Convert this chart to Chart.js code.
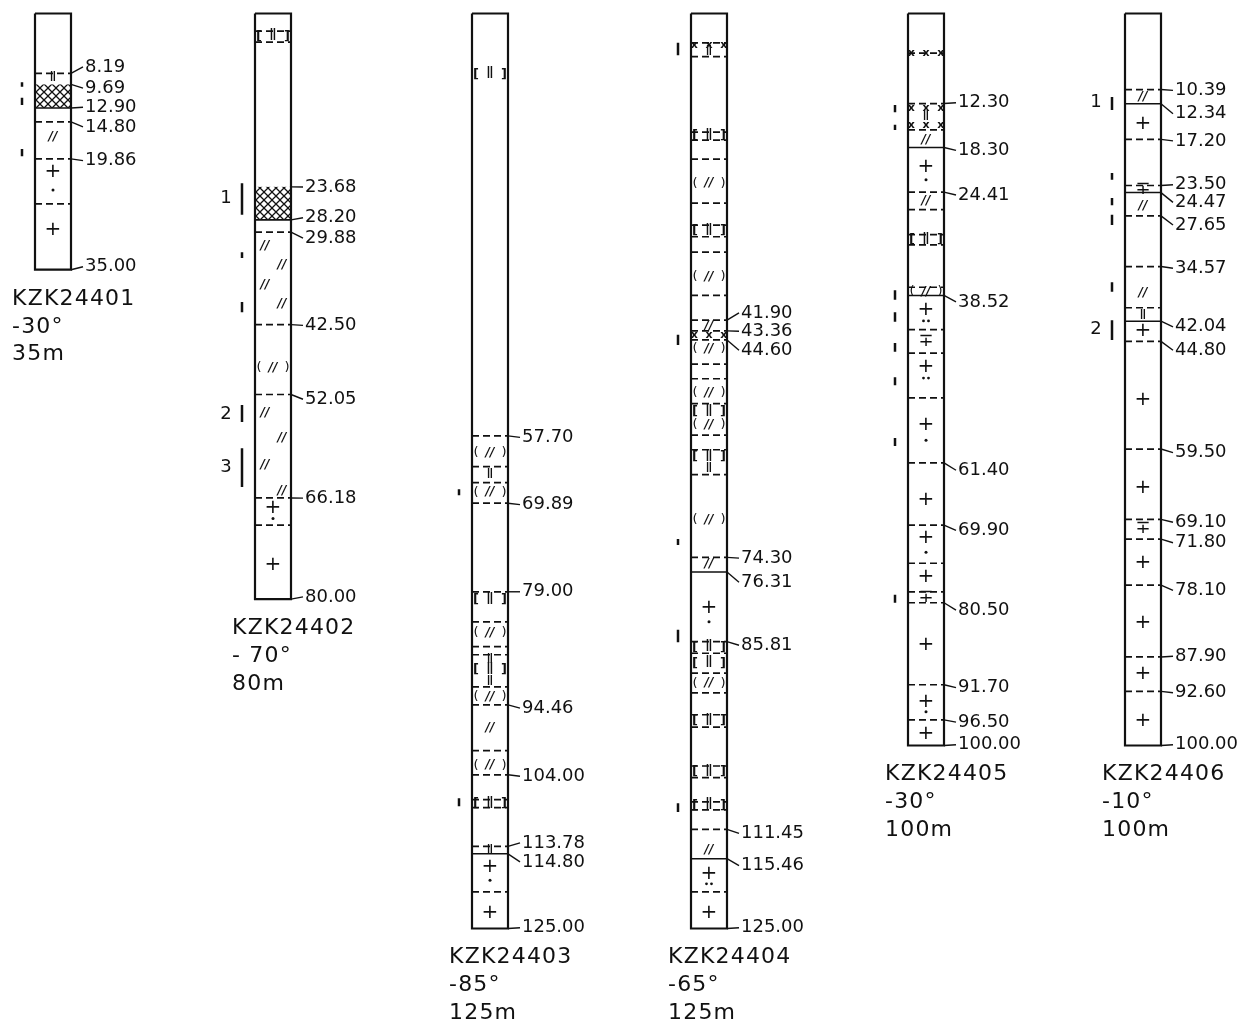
<!DOCTYPE html>
<html lang="en">
<head>
<meta charset="UTF-8" />
<title>KZK borehole logs</title>
<script src="https://cdn.jsdelivr.net/npm/chart.js"></script>
<style>
  html, body { margin: 0; padding: 0; background: #fff; }
  #wrap { width: 1249px; height: 1035px; position: relative; }
</style>
</head>
<body>
<div id="wrap"><canvas id="logChart"></canvas></div>
<script>
const holeNames = ["KZK24401", "KZK24402", "KZK24403", "KZK24404", "KZK24405", "KZK24406"];
const holeAngles = ["-30°", "- 70°", "-85°", "-65°", "-30°", "-10°"];
const holeLengths = ["35m", "80m", "125m", "125m", "100m", "100m"];
const holeDepths = [35, 80, 125, 125, 100, 100];

// labelled contacts: text, depth of the contact, depth where the text sits
const labelText = [
  ["8.19", "9.69", "12.90", "14.80", "19.86", "35.00"],
  ["23.68", "28.20", "29.88", "42.50", "52.05", "66.18", "80.00"],
  ["57.70", "69.89", "79.00", "94.46", "104.00", "113.78", "114.80", "125.00"],
  ["41.90", "43.36", "44.60", "74.30", "76.31", "85.81", "111.45", "115.46", "125.00"],
  ["12.30", "18.30", "24.41", "38.52", "61.40", "69.90", "80.50", "91.70", "96.50", "100.00"],
  ["10.39", "12.34", "17.20", "23.50", "24.47", "27.65", "34.57", "42.04", "44.80", "59.50", "69.10", "71.80", "78.10", "87.90", "92.60", "100.00"]
];
const labelDepth = [
  [8.19, 9.69, 12.9, 14.8, 19.86, 35],
  [23.68, 28.2, 29.88, 42.5, 52.05, 66.18, 80],
  [57.7, 66.9, 79, 94.46, 104, 113.78, 114.8, 125],
  [41.9, 43.36, 44.6, 74.3, 76.31, 85.81, 111.45, 115.46, 125],
  [12.3, 18.3, 24.41, 38.52, 61.4, 69.9, 80.5, 91.7, 96.5, 100],
  [10.39, 12.34, 17.2, 23.5, 24.47, 27.65, 34.57, 42.04, 44.8, 59.5, 69.1, 71.8, 78.1, 87.9, 92.6, 100]
];
const labelAt = [
  [7.3, 10.2, 12.8, 15.5, 20.1, 34.6],
  [23.7, 27.9, 30.7, 42.6, 52.7, 66.2, 79.7],
  [57.9, 67.1, 79.0, 94.9, 104.2, 113.3, 115.9, 124.9],
  [40.9, 43.4, 46.0, 74.4, 77.7, 86.3, 112.0, 116.4, 124.9],
  [12.2, 18.7, 24.8, 39.4, 62.4, 70.6, 81.5, 92.1, 96.8, 99.9],
  [10.5, 13.7, 17.4, 23.4, 25.8, 28.9, 34.8, 42.8, 46.0, 60.0, 69.5, 72.3, 78.8, 87.8, 92.8, 99.9]
];

// contacts drawn dashed / solid
const dashedAt = [
  [8.19, 14.8, 19.86, 26.0],
  [2.4, 3.9, 29.88, 42.5, 52.05, 66.18, 69.9],
  [57.7, 61.9, 64.1, 66.9, 79, 83.1, 86.5, 87.6, 92.0, 94.46, 100.7, 104, 107.4, 108.5, 113.78, 120],
  [4.0, 5.9, 16.2, 17.3, 19.9, 25.9, 28.9, 30.5, 32.6, 38.5, 41.9, 43.36, 44.6, 47.9, 49.9, 53.3, 57.6, 59.6, 63.0,
   74.3, 85.81, 87.4, 90.1, 92.8, 95.8, 97.5, 102.8, 104.4, 107.7, 108.8, 111.45, 120],
  [5.4, 12.3, 15.9, 24.41, 26.8, 30.2, 31.6, 37.4, 43.2, 46.4, 52.5, 61.4, 69.9, 75.1, 79.0, 80.5, 91.7, 96.5],
  [10.39, 17.2, 23.5, 27.65, 34.57, 40.2, 44.8, 59.5, 69.1, 71.8, 78.1, 87.9, 92.6]
];
const solidAt = [
  [],
  [],
  [114.8],
  [76.31, 115.46],
  [18.3, 38.52],
  [12.34, 24.47, 42.04]
];

// cross-hatched intervals
const hatchBands = [[[9.69, 12.9]], [[23.68, 28.2]], [], [], [], []];

// lithology symbols: [depth, kind]
const symbols = [
  [[8.7, "II"], [16.9, "//"], [21.6, "+"], [24.1, "."], [29.6, "+"]],
  [[3.1, "[II]"], [31.8, "//l"], [34.4, "//r"], [37.1, "//l"], [39.7, "//r"], [48.4, "(//)"],
   [54.6, "//l"], [58.0, "//r"], [61.7, "//l"], [65.2, "//r"], [67.5, "+"], [69.0, "."], [75.3, "+"]],
  [[8.3, "[II]"], [60.0, "(//)"], [63.0, "II"], [65.4, "(//)"], [80.1, "[II]"], [84.6, "(//)"], [88.3, "II"],
   [89.7, "[II]"], [91.2, "II"], [93.3, "(//)"], [97.6, "//"], [102.7, "(//)"], [108.0, "[II]"], [114.3, "II"],
   [116.6, "+"], [118.4, "."], [122.9, "+"]],
  [[4.3, "xx"], [5.2, "II"], [16.7, "[II]"], [23.2, "(//)"], [29.7, "[II]"], [36.0, "(//)"], [42.7, "//"],
   [44.0, "xx"], [45.8, "(//)"], [51.8, "(//)"], [54.4, "[II]"], [56.2, "(//)"], [60.6, "[II]"], [62.1, "II"],
   [69.2, "(//)"], [75.2, "//"], [81.2, "+"], [83.1, "."], [86.6, "[II]"], [88.8, "[II]"], [91.5, "(//)"],
   [96.6, "[II]"], [103.6, "[II]"], [108.2, "[II]"], [114.3, "//"], [117.5, "+"], [118.9, ":"], [122.9, "+"]],
  [[5.4, "xx"], [12.9, "xx"], [14.1, "II"], [15.3, "xx"], [17.2, "//"], [20.9, "+"], [22.7, "."], [25.6, "//"],
   [30.9, "[II]"], [38.0, "(//)"], [40.5, "+"], [42.0, ":"], [44.8, "+-"], [48.3, "+"], [49.8, ":"], [56.2, "+"],
   [58.3, "."], [66.5, "+"], [71.6, "+"], [73.6, "."], [77.0, "+"], [79.75, "+-"], [86.3, "+"], [94.0, "+"],
   [95.4, "."], [98.4, "+"]],
  [[11.4, "//"], [15.1, "+"], [24.0, "+-"], [26.3, "//"], [38.2, "//"], [41.2, "II"], [43.4, "+"], [52.8, "+"],
   [64.8, "+"], [70.4, "+-"], [75.0, "+"], [83.2, "+"], [90.2, "+"], [96.6, "+"]]
];

// sampled intervals (bars left of the log) and their numbers
const samples = [
  [[9.4, 10.0], [11.5, 12.5], [18.5, 19.5]],
  [[23.2, 27.5], [32.6, 33.4], [39.4, 40.8], [53.5, 55.8], [59.4, 64.7]],
  [[65.0, 65.8], [107.2, 108.3]],
  [[4.0, 5.7], [43.9, 45.3], [71.8, 72.6], [84.2, 85.9], [107.9, 109.1]],
  [[12.5, 13.5], [15.2, 15.9], [37.8, 39.1], [40.8, 42.1], [45.0, 46.2], [49.7, 50.8], [58.0, 59.1], [79.4, 80.5]],
  [[11.4, 13.2], [21.8, 22.7], [25.2, 26.2], [27.5, 28.9], [36.7, 38.0], [41.9, 44.6]]
];
const sampleNos = [[], [[25.3, "1"], [54.7, "2"], [62.0, "3"]], [], [], [], [[12.2, "1"], [43.2, "2"]]];

// ---- layout ----
const colLeft = [35, 255, 472, 691, 908, 1125];
const colWidth = 36;
const topPx = 13.5;
const pxPerM = 7.32;
const yMin = -topPx / pxPerM;
const yMax = yMin + 1035 / pxPerM;
const INK = "#111";

function segments(i, depths) {
  const L = colLeft[i], R = L + colWidth;
  const pts = [];
  depths.forEach((d) => {
    pts.push({ x: L, y: d }, { x: R, y: d }, { x: L, y: null });
  });
  return pts;
}

const datasets = [];
holeDepths.forEach((depth, i) => {
  const L = colLeft[i], R = L + colWidth;
  datasets.push({
    data: [{ x: L, y: 0 }, { x: R, y: 0 }, { x: R, y: depth }, { x: L, y: depth }, { x: L, y: 0 }],
    borderColor: INK, borderWidth: 2.2
  });
  datasets.push({ data: segments(i, dashedAt[i]), borderColor: INK, borderWidth: 1.7, borderDash: [7, 4] });
  datasets.push({ data: segments(i, solidAt[i]), borderColor: INK, borderWidth: 1.5 });
  const sp = [];
  samples[i].forEach(([a, b]) => sp.push({ x: L - 13, y: a }, { x: L - 13, y: b }, { x: L, y: null }));
  datasets.push({ data: sp, borderColor: INK, borderWidth: 2.5 });
});
datasets.forEach((ds) => {
  ds.showLine = true;
  ds.pointRadius = 0;
  ds.fill = false;
  ds.spanGaps = false;
});

let hatchFill = null;
function makeHatch(ctx) {
  const c = document.createElement("canvas");
  c.width = 8; c.height = 8;
  const g = c.getContext("2d");
  g.strokeStyle = INK; g.lineWidth = 1.3;
  g.beginPath();
  g.moveTo(-1, -1); g.lineTo(9, 9);
  g.moveTo(9, -1); g.lineTo(-1, 9);
  g.stroke();
  return ctx.createPattern(c, "repeat");
}

function drawSymbol(ctx, kind, L, R, y) {
  const cx = (L + R) / 2;
  ctx.textAlign = "center";
  ctx.textBaseline = "middle";
  if (kind === "+") {
    ctx.font = "20px 'DejaVu Sans'";
    ctx.fillText("+", cx, y);
  } else if (kind === "+-") {
    ctx.font = "18px 'DejaVu Sans'";
    ctx.fillText("∓", cx, y);
  } else if (kind === ".") {
    ctx.beginPath(); ctx.arc(cx, y, 1.5, 0, Math.PI * 2); ctx.fill();
  } else if (kind === ":") {
    ctx.beginPath();
    ctx.arc(cx - 2.5, y, 1.4, 0, Math.PI * 2);
    ctx.arc(cx + 2.5, y, 1.4, 0, Math.PI * 2);
    ctx.fill();
  } else if (kind.startsWith("//")) {
    ctx.font = "italic bold 12px 'DejaVu Sans'";
    let x = cx;
    if (kind === "//l") x = L + 10;
    if (kind === "//r") x = R - 9;
    ctx.fillText("//", x, y);
  } else if (kind === "(//)") {
    ctx.font = "13px 'DejaVu Sans'";
    ctx.fillText("(", L + 4, y);
    ctx.fillText(")", R - 4, y);
    ctx.font = "italic bold 12px 'DejaVu Sans'";
    ctx.fillText("//", cx, y);
  } else if (kind === "[II]") {
    ctx.font = "bold 13px 'DejaVu Sans'";
    ctx.fillText("[", L + 4, y);
    ctx.fillText("]", R - 4, y);
    ctx.font = "15px 'DejaVu Sans'";
    ctx.fillText("Ⅱ", cx, y);
  } else if (kind === "II") {
    ctx.font = "14px 'DejaVu Sans'";
    ctx.fillText("Ⅱ", cx, y);
  } else if (kind === "xx") {
    ctx.font = "bold 11px 'DejaVu Sans'";
    ctx.fillText("x  x  x", cx, y);
  }
}

const logPlugin = {
  id: "logPlugin",
  beforeDatasetsDraw(chart) {
    const ctx = chart.ctx, xs = chart.scales.x, ys = chart.scales.y;
    if (!hatchFill) hatchFill = makeHatch(ctx);
    ctx.save();
    hatchBands.forEach((bands, i) => {
      bands.forEach(([a, b]) => {
        const x0 = xs.getPixelForValue(colLeft[i]);
        const x1 = xs.getPixelForValue(colLeft[i] + colWidth);
        const y0 = ys.getPixelForValue(a), y1 = ys.getPixelForValue(b);
        ctx.fillStyle = hatchFill;
        ctx.fillRect(x0, y0, x1 - x0, y1 - y0);
        ctx.strokeStyle = INK; ctx.lineWidth = 1.6;
        ctx.beginPath();
        ctx.moveTo(x0, y1); ctx.lineTo(x1, y1);
        ctx.stroke();
      });
    });
    ctx.restore();
  },
  afterDatasetsDraw(chart) {
    const ctx = chart.ctx, xs = chart.scales.x, ys = chart.scales.y;
    ctx.save();
    ctx.fillStyle = INK;
    ctx.strokeStyle = INK;
    holeNames.forEach((name, i) => {
      const L = xs.getPixelForValue(colLeft[i]);
      const R = xs.getPixelForValue(colLeft[i] + colWidth);

      // depth labels with leader ticks
      ctx.lineWidth = 1.4;
      ctx.font = "18px 'DejaVu Sans'";
      ctx.textAlign = "left";
      ctx.textBaseline = "middle";
      labelText[i].forEach((t, k) => {
        const yl = ys.getPixelForValue(labelDepth[i][k]);
        const yt = ys.getPixelForValue(labelAt[i][k]);
        ctx.beginPath();
        ctx.moveTo(R, yl);
        ctx.lineTo(R + 12, yt);
        ctx.stroke();
        ctx.fillText(t, R + 14, yt);
      });

      // lithology symbols
      symbols[i].forEach(([d, kind]) => drawSymbol(ctx, kind, L, R, ys.getPixelForValue(d)));

      // sample numbers
      ctx.font = "18px 'DejaVu Sans'";
      ctx.textAlign = "center";
      ctx.textBaseline = "middle";
      sampleNos[i].forEach(([d, t]) => ctx.fillText(t, L - 29, ys.getPixelForValue(d)));

      // hole caption
      const bottom = holeDepths[i];
      ctx.font = "22px 'DejaVu Sans'";
      ctx.letterSpacing = "1.2px";
      ctx.textAlign = "left";
      ctx.fillText(name, L - 23, ys.getPixelForValue(bottom + 4.0));
      ctx.fillText(holeAngles[i], L - 23, ys.getPixelForValue(bottom + 7.8));
      ctx.fillText(holeLengths[i], L - 23, ys.getPixelForValue(bottom + 11.6));
      ctx.letterSpacing = "0px";
    });
    ctx.restore();
  }
};

new Chart(document.getElementById("logChart"), {
  type: "scatter",
  data: { datasets: datasets },
  options: {
    responsive: true,
    maintainAspectRatio: false,
    animation: false,
    events: [],
    layout: { padding: 0 },
    plugins: { legend: { display: false }, tooltip: { enabled: false }, title: { display: false } },
    scales: {
      x: { type: "linear", min: 0, max: 1249, display: false },
      y: { type: "linear", min: yMin, max: yMax, reverse: true, display: false }
    }
  },
  plugins: [logPlugin]
});
</script>
</body>
</html>
